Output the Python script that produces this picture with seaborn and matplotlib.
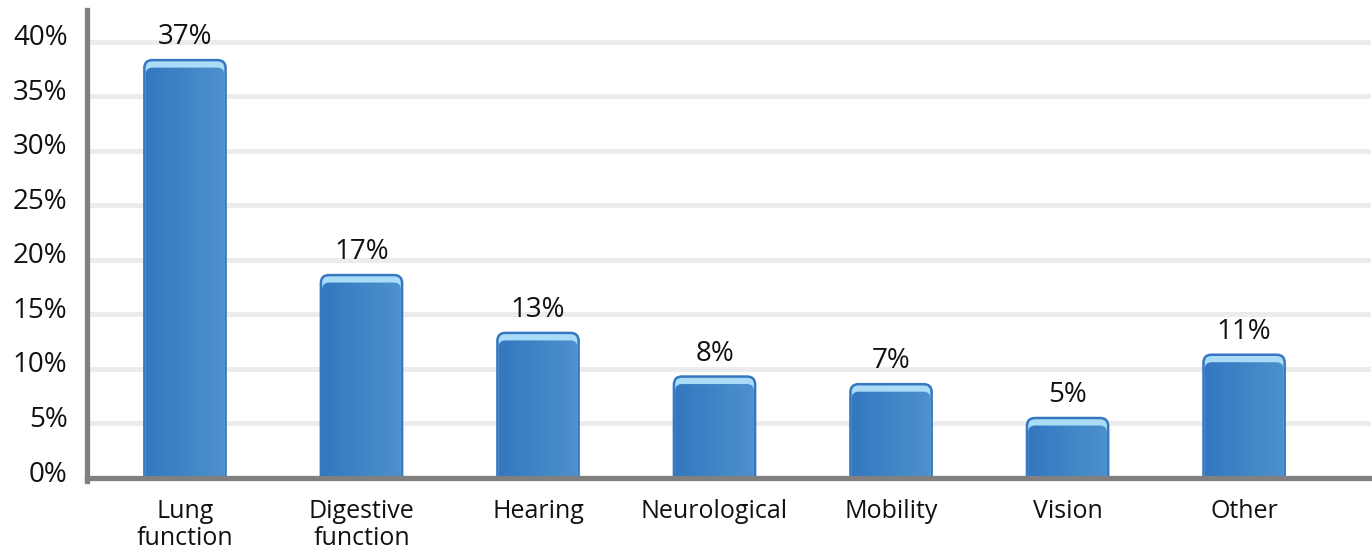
import numpy as np
import matplotlib
matplotlib.use("Agg")
import matplotlib.pyplot as plt
import matplotlib.transforms as mtransforms
import seaborn as sns
from matplotlib.patches import FancyBboxPatch
from matplotlib.colors import LinearSegmentedColormap

# data
categories = ["Lung\nfunction", "Digestive\nfunction", "Hearing", "Neurological",
              "Mobility", "Vision", "Other"]
labels = ["37%", "17%", "13%", "8%", "7%", "5%", "11%"]
# drawn bar heights (percent), as they appear in the picture
heights = [38.3, 18.6, 13.3, 9.3, 8.6, 5.5, 11.3]
yticks = [0, 5, 10, 15, 20, 25, 30, 35, 40]

sns.set_theme(style="white")
plt.rcParams["font.family"] = ["Open Sans", "DejaVu Sans"]

fig = plt.figure(figsize=(13.72, 5.52), dpi=100)
ax = fig.add_axes([0.0634, 0.134, 0.936, 0.848])

sns.barplot(x=categories, y=heights, color="#3a7ec4", width=0.46, ax=ax,
            zorder=3)

ax.set_xlim(-0.555, 6.72)
ax.set_ylim(0, 42.9)

# gridlines
for t in yticks[1:]:
    ax.axhline(t, color="#ececec", lw=3.6, zorder=1)

# pixel scales for rounding
px_x = 1 / (0.936 * 1372 / 7.275)
px_y = 42.9 / (0.848 * 552)
r_px = 8
aspect = px_y / px_x

grad = LinearSegmentedColormap.from_list("g", ["#3377c0", "#4d92cd"])
gimg = np.linspace(0, 1, 64).reshape(1, -1)

for p, h in zip(list(ax.patches), heights):
    x = p.get_x()
    w = p.get_width()
    p.set_visible(False)
    # outer cap with highlight
    outer = FancyBboxPatch((x, -2), w, h + 2,
                           boxstyle=f"round,pad=0,rounding_size={r_px * px_x}",
                           mutation_aspect=aspect, facecolor="#abdcf7",
                           edgecolor="#3577c0", lw=1.8, zorder=3)
    ax.add_patch(outer)
    # body with horizontal gradient
    top = h - 7.5 * px_y
    inner = FancyBboxPatch((x + 1.2 * px_x, -2), w - 2.4 * px_x, top + 2,
                           boxstyle=f"round,pad=0,rounding_size={(r_px - 1) * px_x}",
                           mutation_aspect=aspect, facecolor="none",
                           edgecolor="none", zorder=4)
    ax.add_patch(inner)
    im = ax.imshow(gimg, cmap=grad, aspect="auto", extent=(x, x + w, 0, h),
                   zorder=4, interpolation="bilinear")
    im.set_clip_path(inner)

for i, (h, lab) in enumerate(zip(heights, labels)):
    ax.text(i, h + 2.1, lab, ha="center", va="center", fontsize=20,
            color="#111111", zorder=5)

ax.set_yticks(yticks)
ax.set_yticklabels([f"{t}%" for t in yticks])
ax.tick_params(axis="y", length=0, pad=14, labelsize=20, colors="#111111")
ax.tick_params(axis="x", length=0, pad=15, labelsize=18, colors="#111111")
for lab in ax.get_xticklabels():
    lab.set_linespacing(1.1)
shift = mtransforms.ScaledTranslation(0, 5 / 72, fig.dpi_scale_trans)
for lab in ax.get_yticklabels():
    lab.set_transform(lab.get_transform() + shift)

for s in ["top", "right"]:
    ax.spines[s].set_visible(False)
for s in ["left", "bottom"]:
    ax.spines[s].set_color("#808080")
    ax.spines[s].set_linewidth(3.8)
    ax.spines[s].set_zorder(6)
ax.spines["left"].set_bounds(-0.3, 42.9)
ax.set_xlabel("")
ax.set_ylabel("")

fig.savefig("out.png", dpi=100)
